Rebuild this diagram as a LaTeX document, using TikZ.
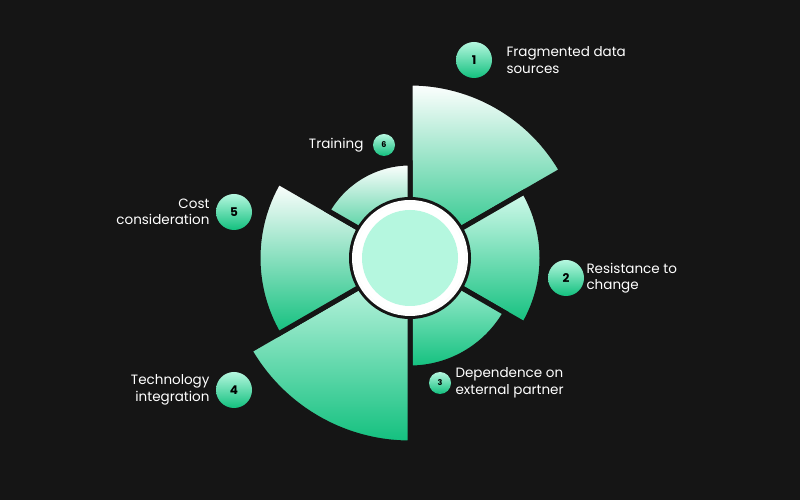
\documentclass[tikz,border=0pt]{standalone}
\usepackage{fontspec}
\setmainfont{Poppins}
\begin{document}
\begin{tikzpicture}[x=1pt,y=1pt,
  num/.style={circle, inner sep=0pt, minimum size=36pt, top color=mint, bottom color=gdark, text=black, font=\bfseries\fontsize{12}{12}\selectfont},
  snum/.style={num, minimum size=22pt, font=\bfseries\fontsize{8}{8}\selectfont},
  lab/.style={text=white, font=\fontsize{13.5}{16.5}\selectfont, align=left, anchor=west},
  labr/.style={lab, align=right, anchor=east}]
\definecolor{bgc}{HTML}{151515}
\definecolor{mint}{HTML}{B5F7DF}
\definecolor{gdark}{HTML}{12C07E}
\tikzset{sect/.style={top color=#1, bottom color=gdark, draw=bgc, line width=5pt, line join=miter}}
\fill[bgc] (0,0) rectangle (800,500);
\useasboundingbox (0,0) rectangle (800,500);
\coordinate (c) at (410,242);
\path[sect=white] (c) -- ++(30:175) arc (30:90:175) -- cycle;
\path[sect=mint!60!white] (c) -- ++(-30:132) arc (-30:30:132) -- cycle;
\path[sect=mint!80!white] (c) -- ++(-90:110) arc (-90:-30:110) -- cycle;
\path[sect=mint!60!white] (c) -- ++(210:185) arc (210:270:185) -- cycle;
\path[sect=white] (c) -- ++(150:152) arc (150:210:152) -- cycle;
\path[sect=white] (c) -- ++(90:95) arc (90:150:95) -- cycle;
\fill[bgc] (c) circle (61);
\shade[inner color=gray!50, outer color=white] (c) circle (58);
\fill[white] (c) circle (55);
\fill[mint] (c) circle (48);
\node[num] (n1) at (474,440) {1};
\node[num] (n2) at (566,222) {2};
\node[snum] (n3) at (440,117) {3};
\node[num] (n4) at (234,110) {4};
\node[num] (n5) at (234,288) {5};
\node[snum] (n6) at (384,355) {6};
\node[lab] (l1) at (503,440) {Fragmented data\\sources};
\node[lab] (l2) at (583,222) {Resistance to\\change};
\node[lab] (l3) at (452,117) {Dependence on\\external partner};
\node[labr] (l4) at (213,110) {Technology\\integration};
\node[labr] (l5) at (213,288) {Cost\\consideration};
\node[labr] (l6) at (367,355) {Training};
\end{tikzpicture}
\end{document}
